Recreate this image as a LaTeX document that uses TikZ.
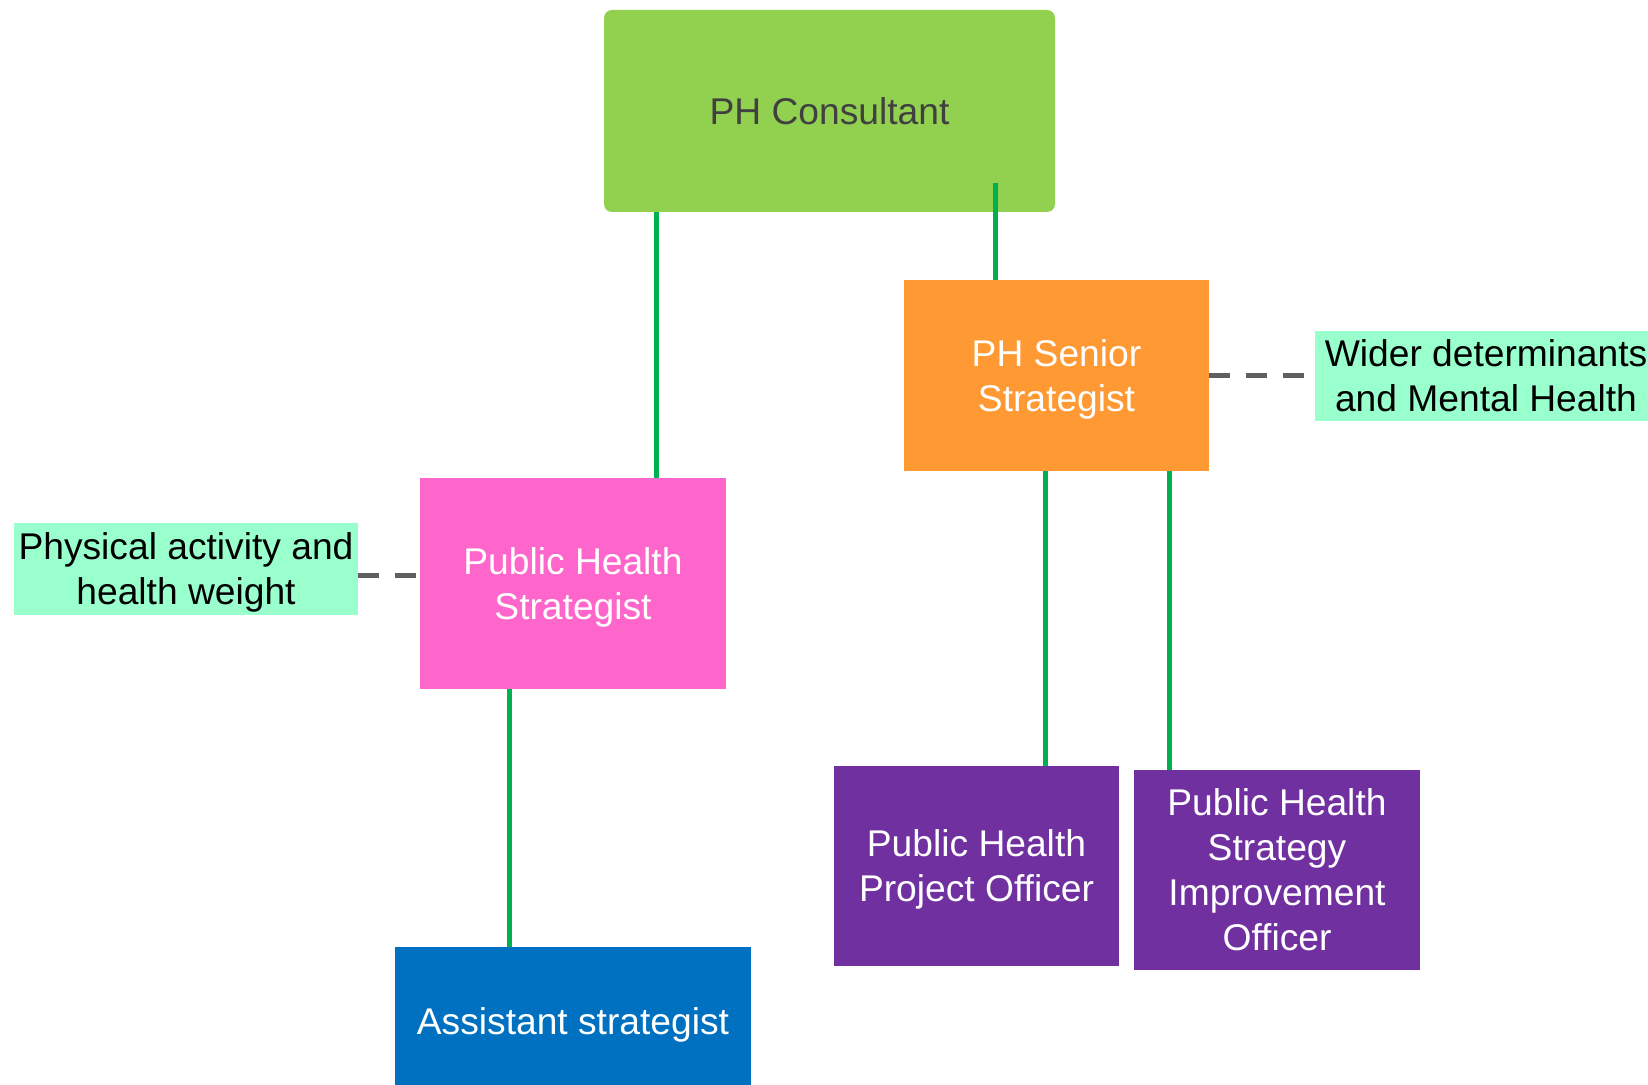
\documentclass[tikz,border=0pt]{standalone}
\usepackage{fontspec}
\setmainfont{Liberation Sans}
\definecolor{consgreen}{HTML}{92D050}
\definecolor{senorange}{HTML}{FF9933}
\definecolor{strpink}{HTML}{FF66CC}
\definecolor{asstblue}{HTML}{0070C0}
\definecolor{offpurple}{HTML}{7030A0}
\definecolor{remitmint}{HTML}{99FFCC}
\definecolor{linkgreen}{HTML}{00B050}
\definecolor{dashgrey}{HTML}{5F5F5F}
\tikzset{
	role/.style={rectangle, inner sep=0pt, align=center, text=white, text depth=0pt,
		font=\fontsize{18.6}{22.5}\selectfont},
	remit/.style={role, fill=remitmint, text=black},
	link/.style={draw=linkgreen, line width=2.5pt},
	dashlink/.style={draw=dashgrey, line width=2.5pt, dash pattern=on 10.5pt off 8pt}
}
\begin{document}
\begin{tikzpicture}[x=0.5pt, y=-0.5pt]
			\useasboundingbox (0,0) rectangle (1648,1085);

			\node[role, fill=consgreen, text=black!75, rounded corners=4pt,
				minimum width=225.5pt, minimum height=101pt] (cons) at (829.5,111) {PH Consultant};
			\node[role, fill=senorange, minimum width=152.5pt, minimum height=95.5pt]
				(senior) at (1056.5,375.5) {PH Senior\\Strategist};
			\node[remit, minimum width=171pt, minimum height=45pt]
				(wider) at (1486,376) {Wider determinants\\and Mental Health};
			\node[role, fill=strpink, minimum width=153pt, minimum height=105.5pt]
				(strat) at (573,583.5) {Public Health\\Strategist};
			\node[remit, minimum width=172pt, minimum height=46pt]
				(phys) at (186,569) {Physical activity and\\health weight};
			\node[role, fill=asstblue, minimum width=178pt, minimum height=74pt]
				(asst) at (573,1021) {Assistant strategist};
			\node[role, fill=offpurple, minimum width=142.5pt, minimum height=100pt]
				(project) at (976.5,866) {Public Health\\Project Officer};
			\node[role, fill=offpurple, minimum width=143pt, minimum height=100pt]
				(improve) at (1277,870) {Public Health\\Strategy\\Improvement\\Officer};

			\coordinate (tapA) at (656,0);
			\coordinate (tapB) at (995,183);
			\coordinate (tapC) at (509,0);
			\coordinate (tapD) at (1045,0);
			\coordinate (tapE) at (1169,0);
			\coordinate (tapF) at (0,575);

			\draw[link] (cons.south -| tapA) -- (strat.north -| tapA);
			\draw[link] (tapB) -- (tapB |- senior.north);
			\draw[link] (strat.south -| tapC) -- (asst.north -| tapC);
			\draw[link] (senior.south -| tapD) -- (project.north -| tapD);
			\draw[link] (senior.south -| tapE) -- (improve.north -| tapE);

			\draw[dashlink] (senior.east) -- (senior.east -| wider.west);
			\draw[dashlink] (phys.east |- tapF) -- (strat.west |- tapF);
		\end{tikzpicture}
\end{document}
